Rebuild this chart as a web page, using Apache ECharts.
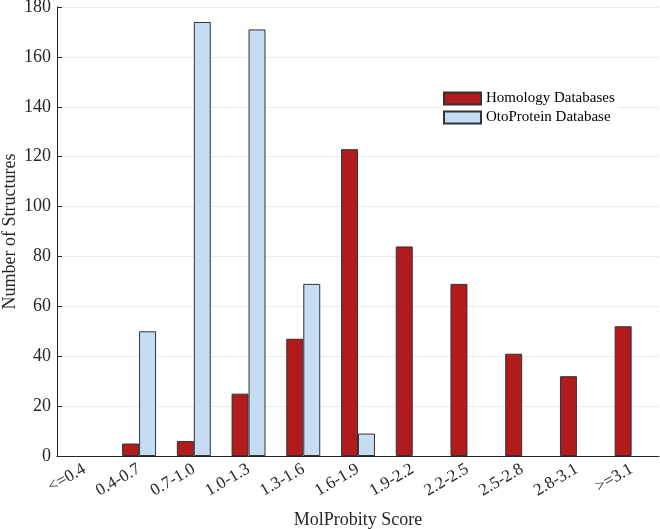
<!DOCTYPE html>
<html>
<head>
<meta charset="utf-8">
<script src="https://cdn.jsdelivr.net/npm/echarts@6/dist/echarts.min.js"></script>
<style>
  html, body { margin: 0; padding: 0; background: #fff; }
  #chart { width: 660px; height: 529px; }
</style>
</head>
<body>
<div id="chart"></div>
<script>
// MolProbity score bins
const categories = ['<=0.4', '0.4-0.7', '0.7-1.0', '1.0-1.3', '1.3-1.6', '1.6-1.9',
  '1.9-2.2', '2.2-2.5', '2.5-2.8', '2.8-3.1', '>=3.1'];
const homology = [0, 5, 6, 25, 47, 123, 84, 69, 41, 32, 52];
const otoProtein = [0, 50, 174, 171, 69, 9, 0, 0, 0, 0, 0];
const yTicks = [0, 20, 40, 60, 80, 100, 120, 140, 160, 180];

const font = 'Liberation Serif, Times New Roman, serif';
const axisColor = '#262626';

// empty bins draw nothing (no zero-height outline)
const toBars = arr => arr.map(v => (v === 0 ? null : v));

const chart = echarts.init(document.getElementById('chart'));
chart.setOption({
  animation: false,
  textStyle: { fontFamily: font },
  grid: { left: 57, right: 1, top: 7, bottom: 73, containLabel: false, outerBoundsMode: 'none' },
  legend: {
    left: 441, top: 89,
    orient: 'vertical',
    icon: 'rect',
    itemWidth: 37, itemHeight: 12, itemGap: 4,
    backgroundColor: '#fff',
    padding: [2, 4, 2, 2],
    textStyle: { fontFamily: font, fontSize: 15, color: '#000' },
    data: ['Homology Databases', 'OtoProtein Database']
  },
  xAxis: {
    type: 'category',
    data: categories,
    name: 'MolProbity Score',
    nameLocation: 'middle',
    nameGap: 55,
    nameMoveOverlap: false,
    nameTextStyle: { fontFamily: font, fontSize: 18, color: '#262626' },
    axisLine: { lineStyle: { color: axisColor, width: 1 } },
    axisTick: { alignWithLabel: true, inside: true, length: 5, lineStyle: { color: axisColor } },
    axisLabel: { rotate: 30, fontFamily: font, fontSize: 17, color: '#262626', margin: 12 },
    splitLine: { show: false }
  },
  yAxis: {
    type: 'value',
    min: 0, max: 180, interval: 20,
    name: 'Number of Structures',
    nameLocation: 'middle',
    nameGap: 38,
    nameMoveOverlap: false,
    nameTextStyle: { fontFamily: font, fontSize: 18, color: '#262626' },
    axisLine: { show: true, lineStyle: { color: axisColor, width: 1 } },
    axisTick: { show: true, inside: true, length: 5, lineStyle: { color: axisColor } },
    axisLabel: {
      fontFamily: font, fontSize: 18, color: '#262626', margin: 6,
      formatter: v => yTicks.includes(v) ? String(v) : ''
    },
    splitLine: { show: true, lineStyle: { color: '#ebebeb', width: 1 } }
  },
  series: [
    {
      name: 'Homology Databases',
      type: 'bar',
      data: toBars(homology),
      barWidth: '31%',
      barGap: '0%',
      itemStyle: { color: '#b11b1b', borderColor: '#333', borderWidth: 1 }
    },
    {
      name: 'OtoProtein Database',
      type: 'bar',
      data: toBars(otoProtein),
      barWidth: '31%',
      barGap: '0%',
      itemStyle: { color: '#c6dcf3', borderColor: '#333', borderWidth: 1 }
    }
  ]
});
</script>
</body>
</html>
